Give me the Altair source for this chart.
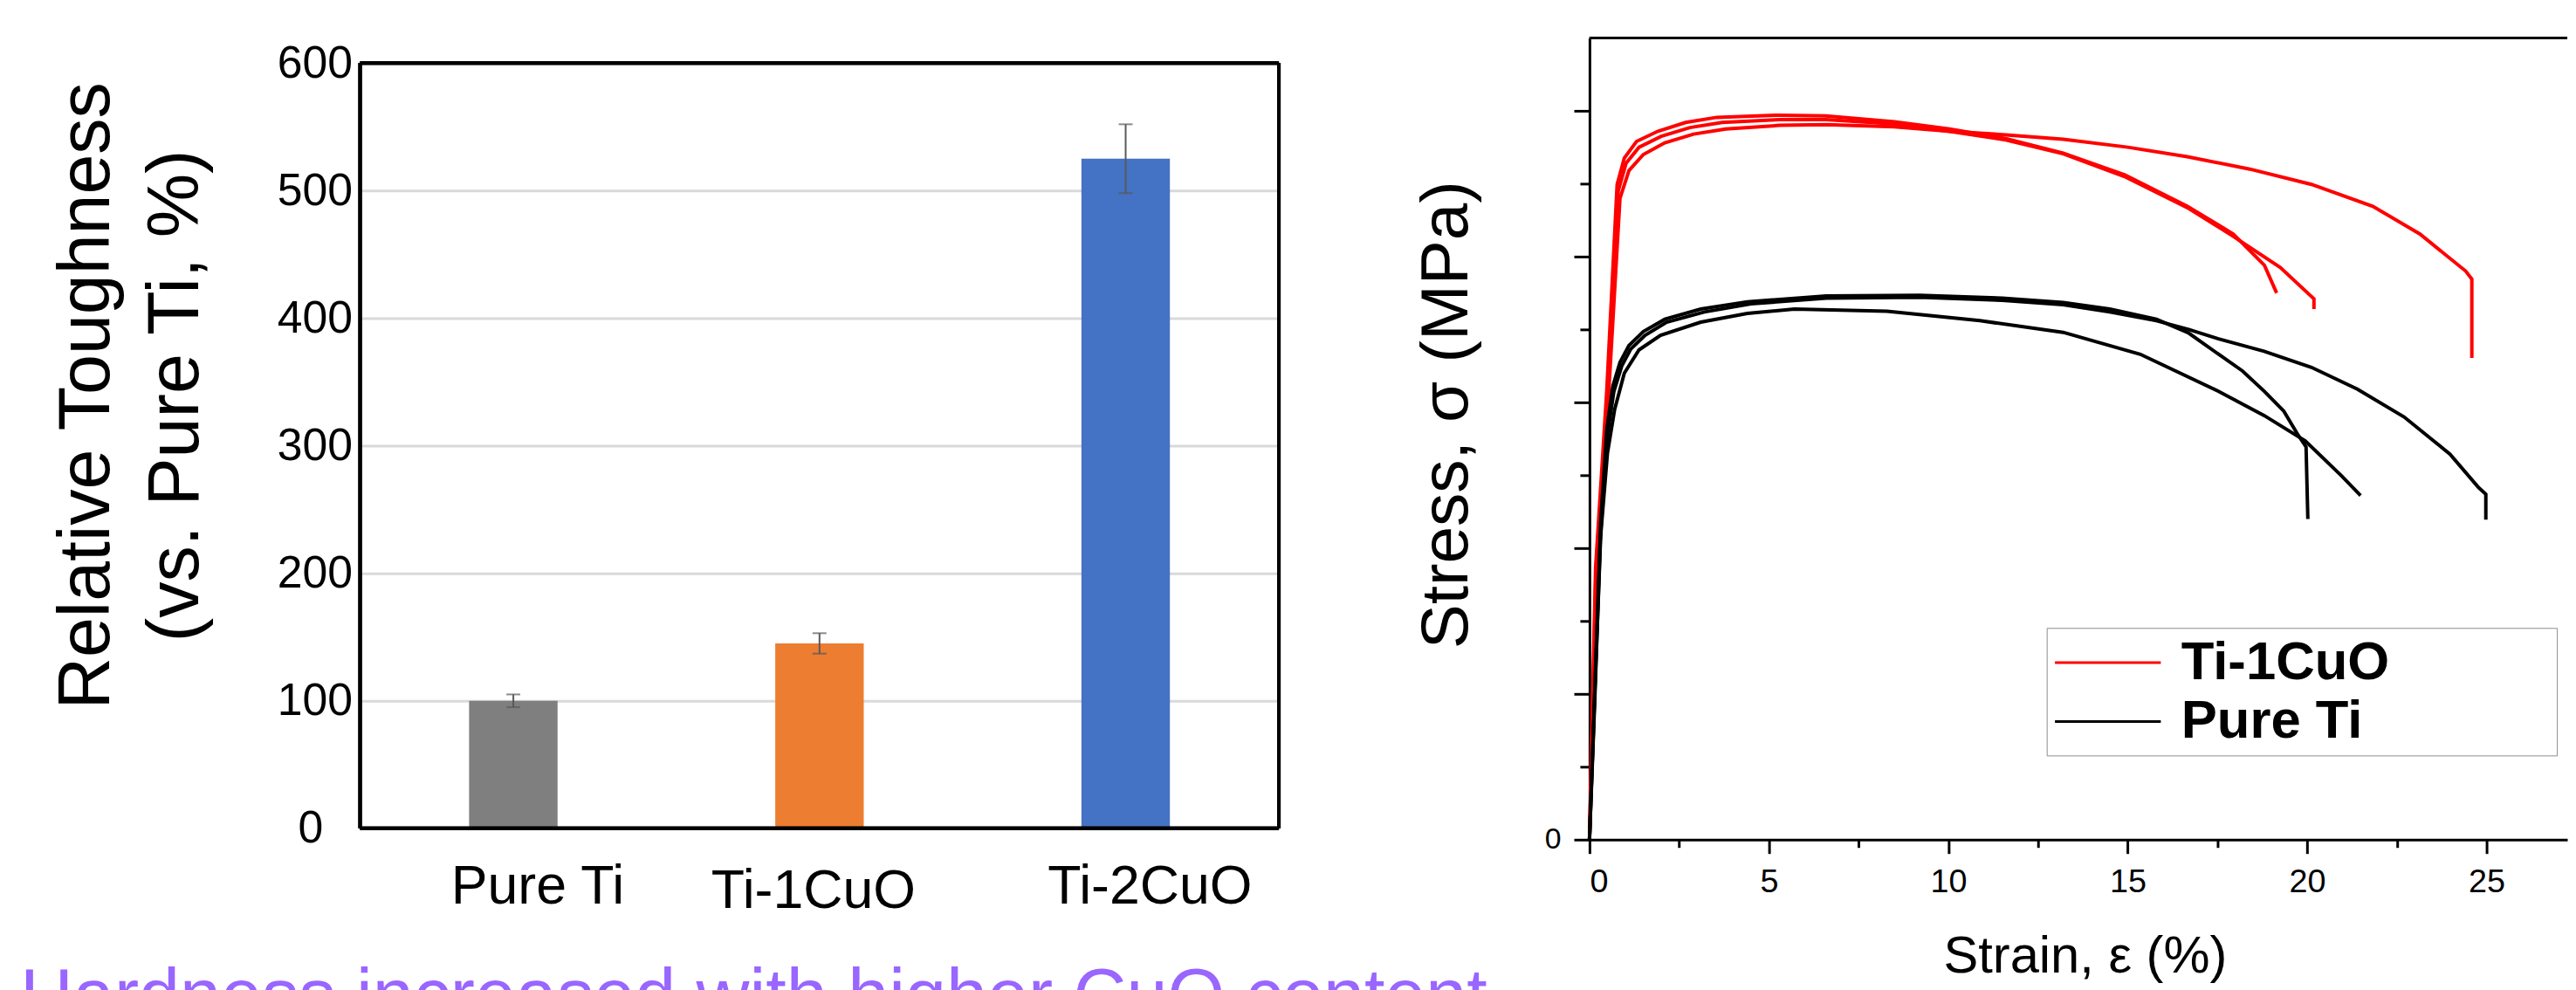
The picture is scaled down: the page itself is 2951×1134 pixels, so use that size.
import altair as alt
import pandas as pd

# ---------------- Left panel: relative toughness bars ----------------
categories = ["Pure Ti", "Ti-1CuO", "Ti-2CuO"]
toughness = [100, 145, 525]
toughness_err = [5, 8, 27]
bar_colors = ["#7f7f7f", "#ed7d31", "#4472c4"]
toughness_ticks = [0, 100, 200, 300, 400, 500, 600]

# ---------------- Right panel: stress-strain curves ----------------
materials = ["Ti-1CuO", "Pure Ti"]
material_colors = ["#ff0000", "#000000"]

red_a_strain = [0, 0.17, 0.48, 0.77, 0.97, 1.31, 1.91, 2.68, 3.55, 5.27, 6.58, 8.5, 10.03, 11.6, 13.2, 14.92, 16.66, 17.94, 18.81, 19.15]
red_a_stress = [0, 373, 615, 899, 935, 958, 972, 984, 991, 994, 993, 985, 975, 962, 942, 912, 869, 831, 788, 750]

red_b_strain = [0, 0.18, 0.5, 0.8, 1.02, 1.38, 2.0, 2.8, 3.7, 5.3, 6.6, 8.5, 10.0, 11.6, 13.2, 14.9, 16.7, 17.9, 19.25, 20.19, 20.19]
red_b_stress = [0, 370, 610, 890, 928, 950, 965, 977, 984, 988, 988, 982, 972, 960, 941, 910, 866, 829, 785, 742, 728]

red_c_strain = [0, 0.2, 0.52, 0.85, 1.1, 1.5, 2.1, 2.9, 3.8, 5.3, 6.6, 8.5, 10.0, 11.6, 13.2, 15.0, 16.66, 18.4, 20.12, 21.83, 23.14, 24.42, 24.59, 24.59]
red_c_stress = [0, 365, 600, 880, 918, 940, 956, 968, 975, 980, 981, 978, 972, 967, 961, 950, 937, 920, 899, 869, 831, 780, 769, 661]

black_a_strain = [0, 0.15, 0.31, 0.48, 0.65, 0.85, 1.1, 1.5, 2.1, 3.1, 4.4, 6.6, 9.2, 11.5, 13.2, 14.5, 15.8, 16.7, 17.53, 18.2, 18.81, 19.35, 19.75, 19.97, 20.02]
black_a_stress = [0, 210, 434, 562, 622, 655, 678, 697, 714, 728, 738, 746, 747, 743, 737, 728, 714, 695, 666, 643, 615, 588, 555, 539, 440]

black_b_strain = [0, 0.15, 0.32, 0.5, 0.68, 0.9, 1.15, 1.55, 2.15, 3.2, 4.5, 6.6, 9.2, 11.5, 13.2, 14.5, 15.8, 16.7, 17.53, 18.8, 20.12, 21.4, 22.7, 23.98, 24.78, 24.98, 24.98]
black_b_stress = [0, 205, 428, 555, 615, 650, 673, 692, 710, 724, 735, 743, 744, 740, 734, 724, 712, 700, 687, 670, 648, 618, 580, 529, 483, 474, 439]

black_c_strain = [0, 0.15, 0.3, 0.5, 0.7, 0.97, 1.38, 1.98, 3.1, 4.4, 5.71, 8.29, 10.88, 13.2, 15.35, 17.53, 18.8, 19.95, 20.96, 21.49]
black_c_stress = [0, 195, 410, 530, 590, 640, 672, 692, 710, 722, 728, 725, 712, 696, 666, 615, 582, 547, 499, 472]

stress_ticks = [0, 100, 200, 300, 400, 500, 600, 700, 800, 900, 1000]
strain_ticks = [0, 2.5, 5, 7.5, 10, 12.5, 15, 17.5, 20, 22.5, 25]

FONT = "Liberation Sans"

# ---------------- build tables ----------------
bar_df = pd.DataFrame({
    "alloy": categories,
    "value": toughness,
    "lo": [v - e for v, e in zip(toughness, toughness_err)],
    "hi": [v + e for v, e in zip(toughness, toughness_err)],
})

curve_specs = [
    ("Ti-1CuO", "r1", red_a_strain, red_a_stress),
    ("Ti-1CuO", "r2", red_b_strain, red_b_stress),
    ("Ti-1CuO", "r3", red_c_strain, red_c_stress),
    ("Pure Ti", "k1", black_a_strain, black_a_stress),
    ("Pure Ti", "k2", black_b_strain, black_b_stress),
    ("Pure Ti", "k3", black_c_strain, black_c_stress),
]
rows = []
for mat, cid, xs, ys in curve_specs:
    for i, (sx, sy) in enumerate(zip(xs, ys)):
        rows.append({"material": mat, "curve": cid, "idx": i, "strain": sx, "stress": sy})
curve_df = pd.DataFrame(rows)

# ---------------- left chart ----------------
LW, LH = 1059, 911          # plot area; frame top sits 29px below plot top
FRAME_TOP = 29
ymax_left = 600 * LH / (LH - FRAME_TOP)

xenc = alt.X(
    "alloy:N",
    sort=categories,
    scale=alt.Scale(paddingInner=0.711, paddingOuter=0.356),
    axis=alt.Axis(
        title=None, labelAngle=0, labelFontSize=63, labelFont=FONT,
        labelColor="black", labelLimit=600, ticks=False, domain=False,
        labelPadding={"condition": {"test": "datum.value === 'Ti-1CuO'", "value": 41}, "value": 36},
        labelOffset={"condition": {"test": "datum.value === 'Ti-1CuO'", "value": -7}, "value": 28},
    ),
)
yscale = alt.Scale(domain=[0, ymax_left], nice=False)

bars = alt.Chart(bar_df).mark_bar().encode(
    x=xenc,
    y=alt.Y(
        "value:Q",
        scale=yscale,
        axis=alt.Axis(
            values=toughness_ticks, grid=True, gridColor="#d9d9d9", gridWidth=3,
            domain=False, ticks=False, labelFontSize=52, labelFont=FONT,
            labelColor="black",
            labelPadding={"condition": {"test": "datum.value === 0", "value": 43}, "value": 9},
            title=["Relative Toughness", "(vs. Pure Ti, %)"],
            titleFontSize=83, titleFont=FONT, titleFontWeight="normal",
            titleColor="black", titleLineHeight=103, titleX=-290, titleY=412,
            titleBaseline="alphabetic", titleAlign="center", titleAngle=270,
        ),
    ),
    color=alt.Color("alloy:N", scale=alt.Scale(domain=categories, range=bar_colors), legend=None),
)

err_rule = alt.Chart(bar_df).mark_rule(color="#595959", strokeWidth=2).encode(
    x=alt.X("alloy:N", sort=categories),
    y=alt.Y("lo:Q", scale=yscale),
    y2="hi:Q",
)
err_top = alt.Chart(bar_df).mark_tick(color="#595959", thickness=2, size=16, orient="horizontal").encode(
    x=alt.X("alloy:N", sort=categories),
    y=alt.Y("hi:Q", scale=yscale),
)
err_bot = alt.Chart(bar_df).mark_tick(color="#595959", thickness=2, size=16, orient="horizontal").encode(
    x=alt.X("alloy:N", sort=categories),
    y=alt.Y("lo:Q", scale=yscale),
)

frame_top = alt.Chart(bar_df).mark_rule(color="black", strokeWidth=4).encode(
    x=alt.value(0), x2=alt.value(LW), y=alt.value(FRAME_TOP))
frame_bottom = alt.Chart(bar_df).mark_rule(color="black", strokeWidth=4).encode(
    x=alt.value(0), x2=alt.value(LW), y=alt.value(LH))
frame_left = alt.Chart(bar_df).mark_rule(color="black", strokeWidth=4).encode(
    x=alt.value(0), y=alt.value(FRAME_TOP), y2=alt.value(LH))
frame_right = alt.Chart(bar_df).mark_rule(color="black", strokeWidth=4).encode(
    x=alt.value(LW), y=alt.value(FRAME_TOP), y2=alt.value(LH))

left = alt.layer(bars, err_rule, err_top, err_bot,
                 frame_top, frame_bottom, frame_left, frame_right).properties(
    width=LW, height=LH,
)

# ---------------- right chart ----------------
RW = 1127
RH = 924

lines = alt.Chart(curve_df).mark_line(strokeWidth=4).encode(
    x=alt.X(
        "strain:Q",
        scale=alt.Scale(domain=[0, 27.25], nice=False, zero=False),
        axis=alt.Axis(
            values=strain_ticks,
            tickSize={"condition": {"test": "datum.value % 5 === 0", "value": 16}, "value": 9},
            tickWidth=3, tickColor="black", domainColor="black", domainWidth=3,
            labelExpr="datum.value % 5 === 0 ? datum.label : ''",
            labelFontSize=38, labelFont=FONT, labelColor="black", labelPadding=14,
            grid=False, title="Strain, ε (%)", titleFontSize=60, titleFont=FONT,
            titleFontWeight="normal", titleColor="black", titleX=571, titleY=153,
            titleBaseline="alphabetic", titleAlign="center",
        ),
    ),
    y=alt.Y(
        "stress:Q",
        scale=alt.Scale(domain=[0, 1100], nice=False),
        axis=alt.Axis(
            values=stress_ticks,
            tickSize={"condition": {"test": "datum.value % 200 === 0", "value": 18}, "value": 11},
            tickWidth=3, tickColor="black", domainColor="black", domainWidth=3,
            labelExpr="datum.value === 0 ? '0' : ''",
            labelFontSize=34, labelFont=FONT, labelColor="black", labelPadding=15,
            grid=False, title="Stress, σ (MPa)", titleFontSize=77, titleFont=FONT,
            titleFontWeight="normal", titleColor="black", titleX=-125, titleY=434,
            titleBaseline="bottom", titleAlign="center", titleAngle=270,
        ),
    ),
    color=alt.Color(
        "material:N",
        scale=alt.Scale(domain=materials, range=material_colors),
        legend=alt.Legend(
            orient="none", legendX=527, legendY=680, title=None,
            symbolType="M-1,0H3M17.5,0", symbolSize=3721, symbolStrokeWidth=3,
            labelFontSize=62, labelFontWeight="bold", labelFont=FONT, labelColor="black",
            labelOffset=83, labelLimit=900, padding=8, rowPadding=5,
            strokeColor="#8c8c8c",
        ),
    ),
    detail="curve:N",
    order="idx:Q",
)

top_border = alt.Chart(bar_df).mark_rule(color="black", strokeWidth=3).encode(
    x=alt.value(0), x2=alt.value(RW), y=alt.value(0)
)

right = alt.layer(lines, top_border).properties(width=RW, height=RH)

chart = alt.hconcat(left, right, spacing=153).resolve_scale(
    color="independent"
).properties(
    padding={"left": 15, "top": 30, "right": 0, "bottom": 0},
    title=alt.TitleParams(
        "Hardness increased with higher CuO content",
        orient="bottom", anchor="start", fontSize=85, font=FONT,
        fontWeight="normal", color="#9966ff", baseline="alphabetic",
        offset=43, dx=-36,
    ),
).configure(font=FONT).configure_view(stroke="transparent", strokeWidth=0)

chart.save("out.html", embed_options={"renderer": "svg", "actions": False})
